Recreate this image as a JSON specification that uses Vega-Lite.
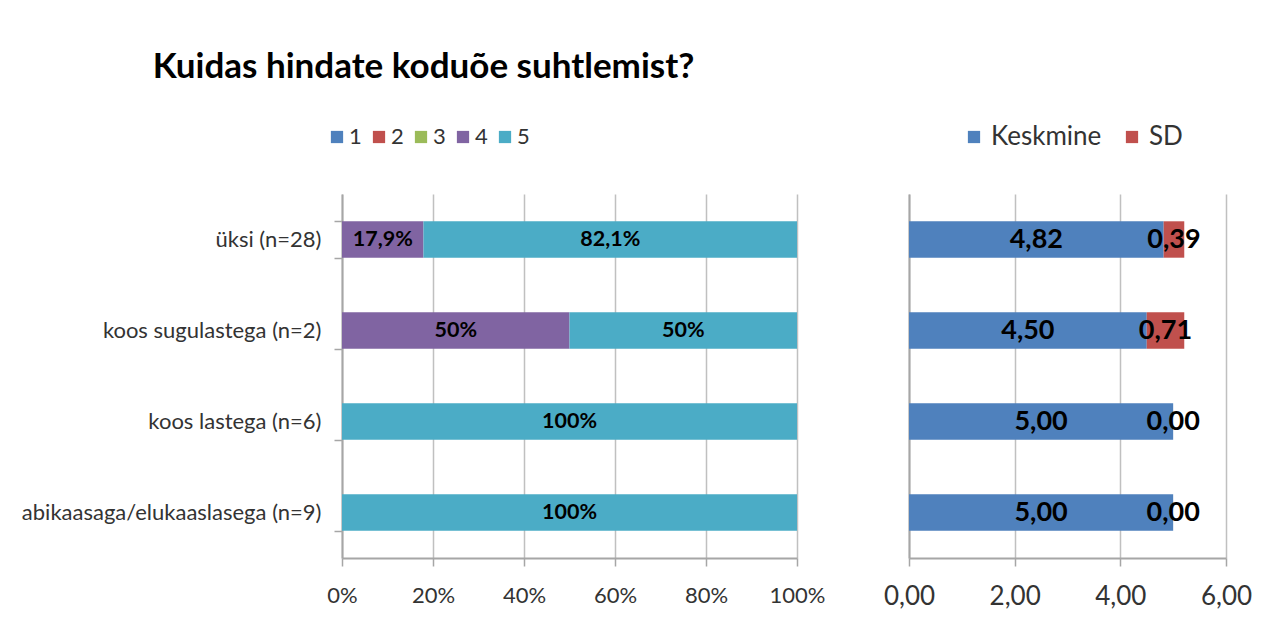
{
  "$schema": "https://vega.github.io/schema/vega-lite/v6.json",
  "background": "white",
  "padding": {"left": 21, "top": 50, "right": 5, "bottom": 5},
  "config": {
    "locale": {"number": {"decimal": ",", "thousands": " ", "grouping": [3], "currency": ["", " €"]}},
    "font": "Lato",
    "view": {"stroke": null},
    "axis": {
      "labelFont": "Lato",
      "labelColor": "#333333",
      "labelLimit": 0,
      "labelFlush": false,
      "labelOverlap": false,
      "domainColor": "#a6a6a6",
      "domainWidth": 2,
      "gridColor": "#c0c0c0",
      "gridWidth": 1.5,
      "tickColor": "#a6a6a6",
      "tickWidth": 1.5,
      "tickSize": 8,
      "title": null
    },
    "legend": {
      "labelFont": "Lato",
      "labelColor": "#333333",
      "symbolType": "square",
      "symbolStrokeWidth": 0,
      "padding": 0,
      "title": null
    }
  },
  "datasets": {
    "dist": [
      {"group": "üksi (n=28)", "hinne": "4", "share": 0.179},
      {"group": "üksi (n=28)", "hinne": "5", "share": 0.821},
      {"group": "koos sugulastega (n=2)", "hinne": "4", "share": 0.5},
      {"group": "koos sugulastega (n=2)", "hinne": "5", "share": 0.5},
      {"group": "koos lastega (n=6)", "hinne": "5", "share": 1.0},
      {"group": "abikaasaga/elukaaslasega (n=9)", "hinne": "5", "share": 1.0}
    ],
    "stats": [
      {"group": "üksi (n=28)", "naitaja": "Keskmine", "value": 4.82},
      {"group": "üksi (n=28)", "naitaja": "SD", "value": 0.39},
      {"group": "koos sugulastega (n=2)", "naitaja": "Keskmine", "value": 4.50},
      {"group": "koos sugulastega (n=2)", "naitaja": "SD", "value": 0.71},
      {"group": "koos lastega (n=6)", "naitaja": "Keskmine", "value": 5.00},
      {"group": "koos lastega (n=6)", "naitaja": "SD", "value": 0.00},
      {"group": "abikaasaga/elukaaslasega (n=9)", "naitaja": "Keskmine", "value": 5.00},
      {"group": "abikaasaga/elukaaslasega (n=9)", "naitaja": "SD", "value": 0.00}
    ]
  },
  "bounds": "flush",
  "spacing": 112,
  "resolve": {"scale": {"color": "independent"}, "legend": {"color": "independent"}},
  "hconcat": [
    {
      "width": 455,
      "height": 364,
      "title": {
        "text": "Kuidas hindate koduõe suhtlemist?",
        "font": "Lato",
        "fontSize": 35,
        "fontWeight": "bold",
        "color": "#000000",
        "anchor": "middle",
        "frame": "group",
        "dx": -146,
        "offset": 41
      },
      "data": {"name": "dist"},
      "encoding": {
        "y": {
          "field": "group",
          "type": "nominal",
          "sort": ["üksi (n=28)", "koos sugulastega (n=2)", "koos lastega (n=6)", "abikaasaga/elukaaslasega (n=9)"],
          "scale": {"paddingInner": 0.6, "paddingOuter": 0.3},
          "axis": {"tickBand": "extent", "labelPadding": 13, "labelFontSize": 22, "grid": false}
        },
        "order": {"field": "hinne", "type": "nominal"}
      },
      "layer": [
        {
          "mark": {"type": "bar"},
          "encoding": {
            "x": {
              "field": "share",
              "type": "quantitative",
              "stack": "zero",
              "scale": {"domain": [0, 1], "nice": false},
              "axis": {"values": [0, 0.2, 0.4, 0.6, 0.8, 1], "format": ".0%", "grid": true, "labelFontSize": 22, "labelPadding": 19}
            },
            "color": {
              "field": "hinne",
              "type": "nominal",
              "scale": {"domain": ["1", "2", "3", "4", "5"], "range": ["#4f81bd", "#c0504d", "#9bbb59", "#8064a2", "#4bacc6"]},
              "legend": {
                "orient": "none",
                "direction": "horizontal",
                "legendX": -16,
                "legendY": -68,
                "labelFontSize": 22,
                "symbolSize": 150,
                "labelOffset": 1,
                "columnPadding": 6
              }
            }
          }
        },
        {
          "mark": {"type": "text", "fontWeight": "bold", "fontSize": 21.5, "color": "#000000", "font": "Lato"},
          "encoding": {
            "x": {"field": "share", "type": "quantitative", "stack": "zero", "bandPosition": 0.5},
            "detail": {"field": "hinne", "type": "nominal"},
            "text": {"field": "share", "type": "quantitative", "format": ".1~%"}
          }
        }
      ]
    },
    {
      "width": 317,
      "height": 364,
      "data": {"name": "stats"},
      "encoding": {
        "y": {
          "field": "group",
          "type": "nominal",
          "sort": ["üksi (n=28)", "koos sugulastega (n=2)", "koos lastega (n=6)", "abikaasaga/elukaaslasega (n=9)"],
          "scale": {"paddingInner": 0.6, "paddingOuter": 0.3},
          "axis": {"labels": false, "ticks": false, "grid": false, "domain": true}
        },
        "order": {"field": "naitaja", "type": "nominal"}
      },
      "layer": [
        {
          "mark": {"type": "bar"},
          "encoding": {
            "x": {
              "field": "value",
              "type": "quantitative",
              "stack": "zero",
              "scale": {"domain": [0, 6], "nice": false},
              "axis": {"values": [0, 2, 4, 6], "format": ".2f", "grid": true, "labelFontSize": 26, "labelPadding": 17}
            },
            "color": {
              "field": "naitaja",
              "type": "nominal",
              "scale": {"domain": ["Keskmine", "SD"], "range": ["#4f81bd", "#c0504d"]},
              "legend": {
                "orient": "none",
                "direction": "horizontal",
                "legendX": 52,
                "legendY": -70,
                "labelFontSize": 26,
                "symbolSize": 150,
                "labelOffset": 4,
                "columnPadding": 17
              }
            }
          }
        },
        {
          "mark": {"type": "text", "fontWeight": "bold", "fontSize": 27, "color": "#000000", "font": "Lato"},
          "encoding": {
            "x": {"field": "value", "type": "quantitative", "stack": "zero", "bandPosition": 0.5},
            "detail": {"field": "naitaja", "type": "nominal"},
            "text": {"field": "value", "type": "quantitative", "format": ".2f"}
          }
        }
      ]
    }
  ]
}
